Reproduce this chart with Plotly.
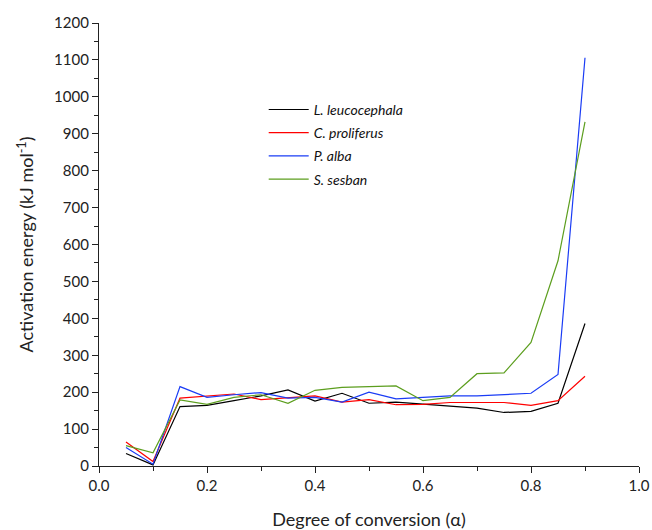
import plotly.graph_objects as go

alpha = [0.05, 0.10, 0.15, 0.20, 0.25, 0.30, 0.35, 0.40, 0.45, 0.50,
         0.55, 0.60, 0.65, 0.70, 0.75, 0.80, 0.85, 0.90]

leucocephala = [34, 3, 161, 164, 177, 190, 206, 176, 197, 170,
                173, 168, 163, 157, 145, 148, 170, 386]
proliferus = [65, 12, 184, 190, 195, 180, 184, 190, 173, 180,
              166, 167, 172, 172, 172, 164, 177, 243]
alba = [50, 5, 215, 186, 193, 199, 184, 186, 173, 200,
        182, 186, 190, 190, 193, 197, 248, 1106]
sesban = [55, 36, 179, 167, 186, 193, 170, 205, 213, 215,
          217, 177, 186, 250, 252, 335, 556, 932]

names = ["L. leucocephala", "C. proliferus", "P. alba", "S. sesban"]
colors = ["#000000", "#ff0000", "#1a3cf5", "#5c9e1e"]
series = [leucocephala, proliferus, alba, sesban]

x_ticks = [0.0, 0.2, 0.4, 0.6, 0.8, 1.0]
y_ticks = list(range(0, 1201, 100))

fig = go.Figure()
for nm, col, ys in zip(names, colors, series):
    fig.add_trace(go.Scatter(x=alpha, y=ys, mode="lines", name=nm, legendgroup=nm,
                             line=dict(color=col, width=1.2)))

font = "Lato, 'Open Sans', sans-serif"
fig.update_layout(
    width=652, height=530,
    margin=dict(l=99, r=13, t=23, b=64, autoexpand=False),
    plot_bgcolor="white", paper_bgcolor="white",
    font=dict(family=font, size=15, color="#222"),
    showlegend=True,
    legend=dict(x=0.305, y=0.84, xanchor="left", yanchor="top",
                bgcolor="rgba(0,0,0,0)", font=dict(size=14, style="italic", color="#111"),
                tracegroupgap=2, itemwidth=40),
    xaxis=dict(range=[0, 1.0], tickvals=x_ticks, ticktext=["%.1f" % v for v in x_ticks],
               automargin=False,
               showline=True, linecolor="#222", linewidth=1.2, mirror=False,
               ticks="outside", ticklen=6, tickcolor="#222", showgrid=False, zeroline=False,
               minor=dict(dtick=0.1, ticks="outside", ticklen=4, tickcolor="#222"),
               title=dict(text="Degree of conversion (α)", font=dict(size=18), standoff=29)),
    yaxis=dict(range=[0, 1200], tickvals=y_ticks, automargin=False,
               showline=True, linecolor="#222", linewidth=1.2, mirror=False,
               ticks="outside", ticklen=6, tickcolor="#222", showgrid=False, zeroline=False,
               minor=dict(dtick=50, ticks="outside", ticklen=4, tickcolor="#222"),
               title=dict(text="Activation energy (kJ mol<sup>-1</sup>)", font=dict(size=18), standoff=15)),
)

fig.write_html("out.html", config={"displayModeBar": False},
               post_script="document.body.style.margin='0';document.body.style.overflow='hidden';")
